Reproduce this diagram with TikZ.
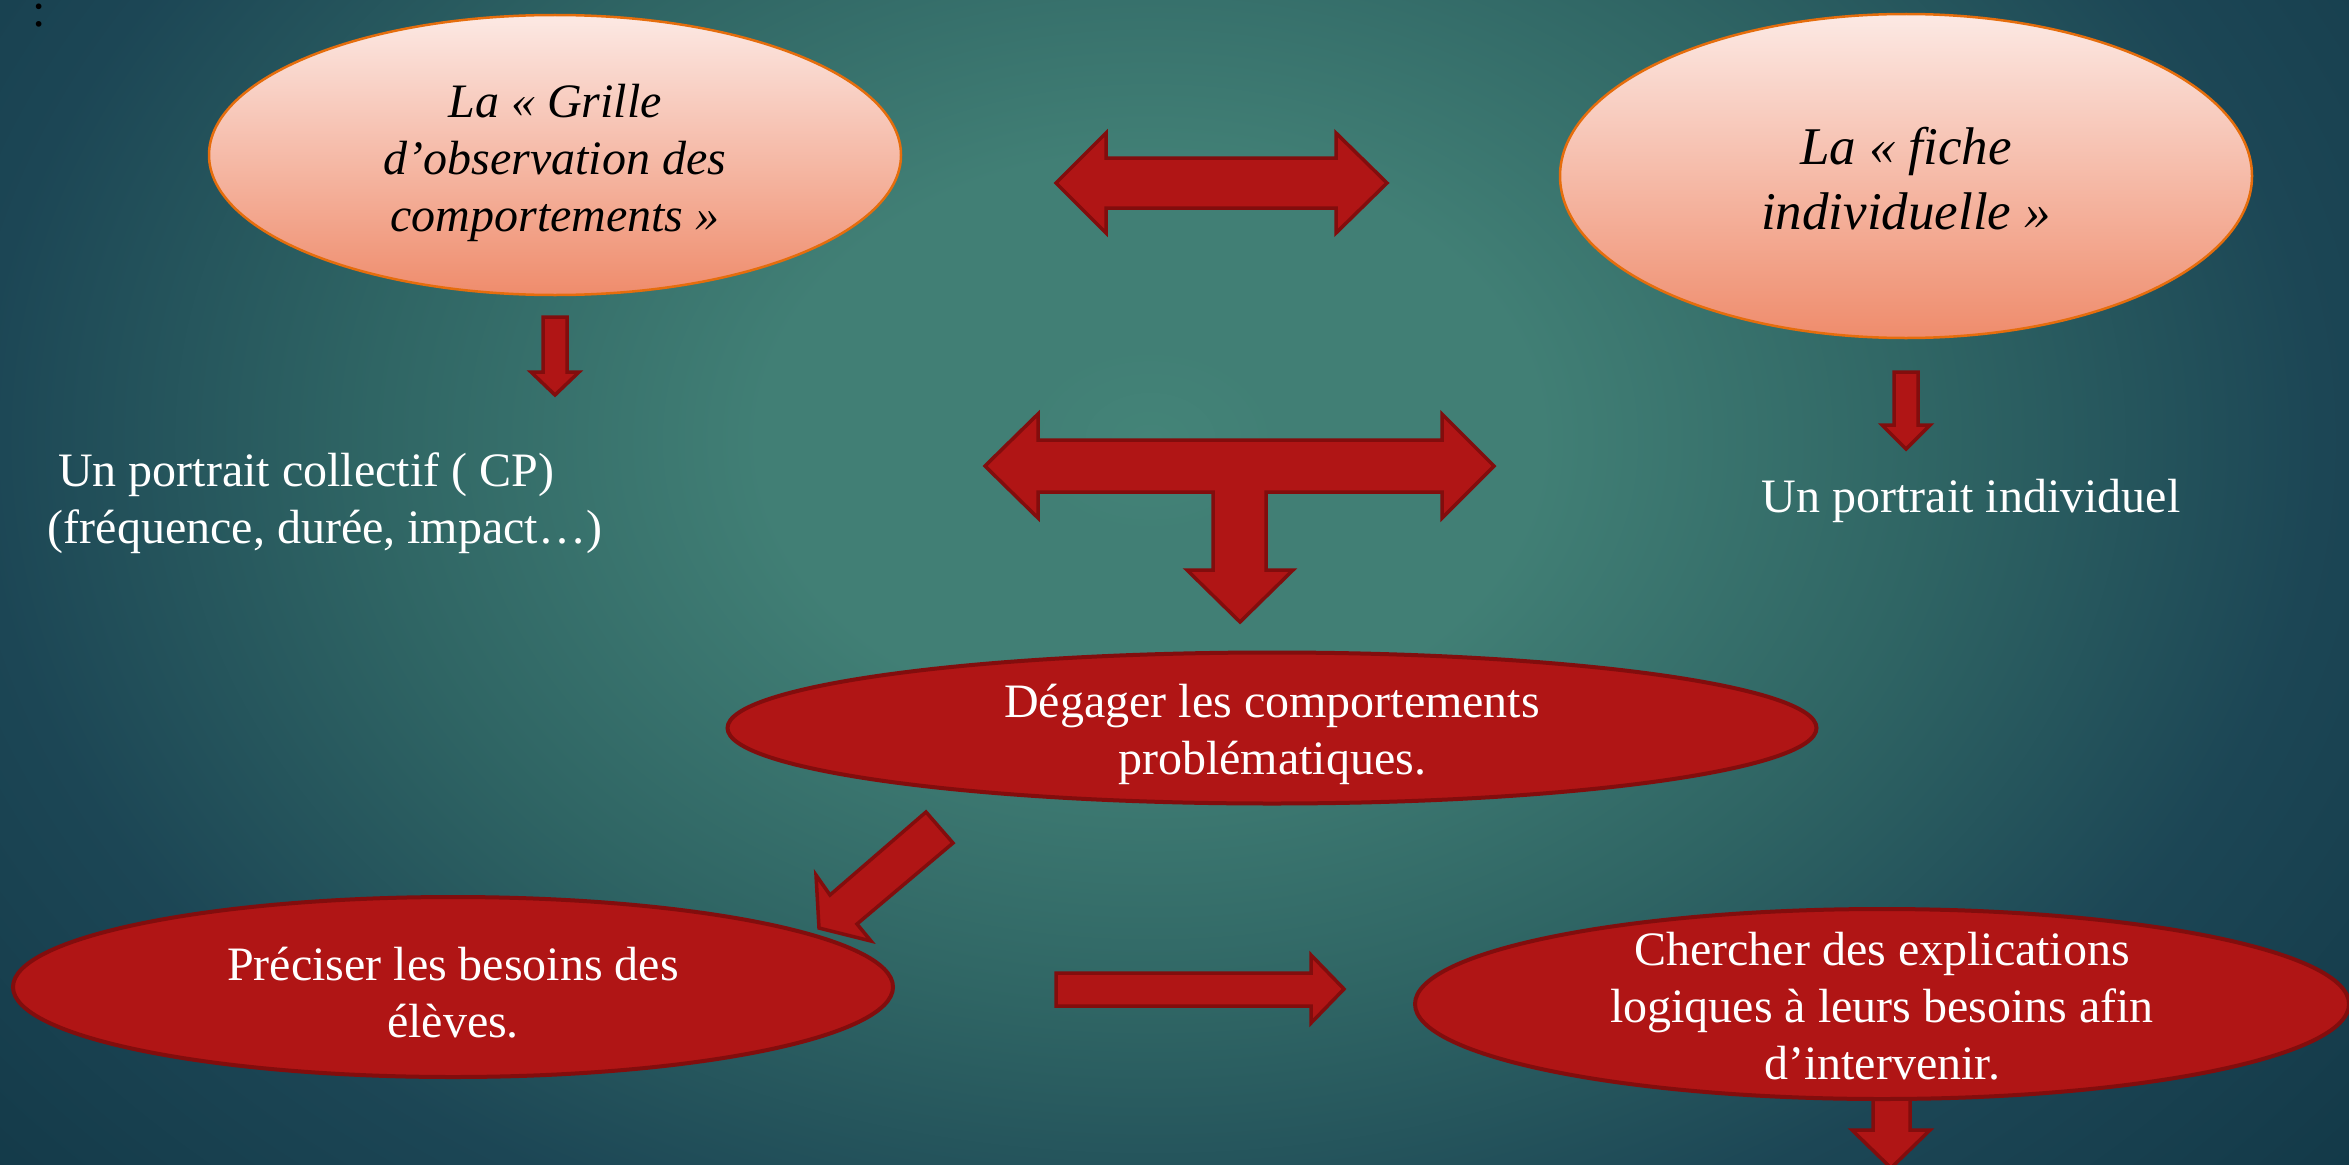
\documentclass[tikz,border=0pt]{standalone}
\usepackage{fontspec}
\setmainfont{Liberation Serif}
\usetikzlibrary{shapes.geometric}
\definecolor{arrowfill}{HTML}{B01515}
\definecolor{arrowline}{HTML}{820D0D}
\definecolor{pinktop}{HTML}{FCE9E4}
\definecolor{pinkbot}{HTML}{EF8C6C}
\definecolor{pinkline}{HTML}{E56D0C}
\definecolor{bgA}{HTML}{448478}
\definecolor{bgB}{HTML}{417F75}
\definecolor{bgC}{HTML}{2F6564}
\definecolor{bgD}{HTML}{1C4655}
\definecolor{bgE}{HTML}{133948}
\definecolor{bgF}{HTML}{0F3343}
\pgfdeclareradialshading{bgshade}{\pgfpoint{0bp}{0bp}}{color(0bp)=(bgA); color(2.5bp)=(bgB); color(7.5bp)=(bgB); color(15bp)=(bgC); color(22.5bp)=(bgD); color(30bp)=(bgE); color(40bp)=(bgF)}
\begin{document}
\begin{tikzpicture}[x=1pt,y=-1pt,
  blockarrow/.style={fill=arrowfill,draw=arrowline,line width=3.5pt,line join=miter},
  pinkoval/.style={ellipse,draw=pinkline,line width=2.5pt,top color=pinktop,bottom color=pinkbot,inner sep=0pt},
  redoval/.style={ellipse,draw=arrowline,line width=4pt,fill=arrowfill,inner sep=0pt},
  pinktext/.style={align=center,text=black,inner sep=0pt,font=\fontsize{48}{57}\selectfont\itshape},
  whitetext/.style={align=center,text=white,inner sep=0pt,font=\fontsize{48}{57}\selectfont}]
\useasboundingbox (0,0) rectangle (2349,1164);
\clip (0,0) rectangle (2349,1164);
\shade[shading=bgshade] (-150,-510) rectangle (2450,1390);

% colon in the corner
\node[anchor=base,text=black,inner sep=0pt,font=\fontsize{48}{57}\selectfont] (colon) at (39,27) {:};

% block arrows
\draw[blockarrow] (1056,183) -- (1106,133) -- (1106,158) -- (1336,158) -- (1336,133) -- (1387,183)
  -- (1336,233) -- (1336,208) -- (1106,208) -- (1106,233) -- cycle;
\draw[blockarrow] (985,466) -- (1038,414) -- (1038,440) -- (1442,440) -- (1442,414) -- (1494,466)
  -- (1442,518) -- (1442,492) -- (1266,492) -- (1266,570) -- (1293,570) -- (1240,622)
  -- (1187,570) -- (1213,570) -- (1213,492) -- (1038,492) -- (1038,518) -- cycle;
\draw[blockarrow] (543,317) -- (567,317) -- (567,372) -- (579,372) -- (555,395) -- (531,372) -- (543,372) -- cycle;
\draw[blockarrow] (1894,372) -- (1918,372) -- (1918,425) -- (1930,425) -- (1906,449) -- (1882,425) -- (1894,425) -- cycle;
\draw[blockarrow] (1873,1080) -- (1910,1080) -- (1910,1130) -- (1930,1130) -- (1891,1168) -- (1852,1130) -- (1873,1130) -- cycle;
\draw[blockarrow] (1056,973) -- (1311,973) -- (1311,955) -- (1344,989) -- (1311,1023) -- (1311,1006) -- (1056,1006) -- cycle;

% ovals
\node[pinkoval,minimum width=692pt,minimum height=280pt] (grille) at (555,155) {};
\node[pinktext] (grilletext) at (555,163) {La « Grille\\d’observation des\\comportements »};
\node[pinkoval,minimum width=692pt,minimum height=324pt] (fiche) at (1906,176) {};
\node[pinktext,font=\fontsize{53}{65}\selectfont\itshape] (fichetext) at (1906,179) {La « fiche\\individuelle »};
\node[redoval,minimum width=1089pt,minimum height=151pt] (degager) at (1272,728) {};
\node[whitetext] (degagertext) at (1272,734) {Dégager les comportements\\problématiques.};
\node[redoval,minimum width=880pt,minimum height=180pt] (preciser) at (453,987) {};
\node[whitetext] (precisertext) at (453,993) {Préciser les besoins des\\élèves.};
\node[redoval,minimum width=934pt,minimum height=190pt] (chercher) at (1882,1004) {};
\node[whitetext] (cherchertext) at (1882,1006) {Chercher des explications\\logiques à leurs besoins afin\\d’intervenir.};

% diagonal arrow
\draw[blockarrow] (926,812) -- (953,843) -- (857,924) -- (871,941) -- (819,928) -- (816,875) -- (830,895) -- cycle;

% free texts
\node[whitetext,anchor=base] (collectif1) at (306,486) {Un portrait collectif ( CP)};
\node[whitetext,anchor=base] (collectif2) at (325,543) {(fréquence, durée, impact…)};
\node[whitetext,anchor=base] (individuel) at (1971,512) {Un portrait individuel};
\end{tikzpicture}
\end{document}
